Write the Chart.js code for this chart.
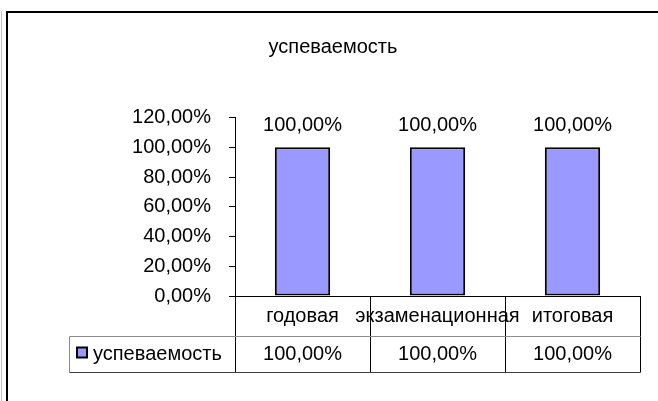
<!DOCTYPE html>
<html>
<head>
<meta charset="utf-8">
<script src="https://cdn.jsdelivr.net/npm/chart.js@4/dist/chart.umd.min.js"></script>
<style>
  html, body { margin: 0; padding: 0; background: #fff; }
  #wrap { position: relative; width: 658px; height: 401px; overflow: hidden; }
  #edge { position: absolute; left: 1px; top: 11px; width: 1px; height: 400px; background: #c4c4c4; }
  #frame { position: absolute; left: 6px; top: 11px; width: 700px; height: 500px;
           border-left: 2px solid #000; border-top: 2px solid #000; }
  #chart { position: absolute; left: 0; top: 0; }
</style>
</head>
<body>
<div id="wrap">
  <div id="edge"></div>
  <div id="frame"></div>
  <canvas id="chart" width="658" height="401"></canvas>
</div>
<script>
// данные
const TITLE = "успеваемость";
const SERIES = "успеваемость";
const CATEGORIES = ["годовая", "экзаменационная", "итоговая"];
const VALUES = [1, 1, 1];
const Y_MIN = 0;
const Y_MAX = 1.2;
const Y_STEP = 0.2;

const FONT = "'Liberation Sans', Arial, sans-serif";
const BAR_COLOR = "#9999ff";

// 1 -> "100,00%"
function pct(v) {
  return (v * 100).toFixed(2).replace(".", ",") + "%";
}

// заголовок, подписи над столбцами, таблица данных под осью
const tablePlugin = {
  id: "tablePlugin",
  afterDraw(chart) {
    const ctx = chart.ctx;
    const x = chart.scales.x;
    const area = chart.chartArea;
    const meta = chart.getDatasetMeta(0);

    ctx.save();
    ctx.font = "20px " + FONT;
    ctx.fillStyle = "#000";
    ctx.textAlign = "center";
    ctx.textBaseline = "middle";

    // заголовок
    ctx.fillText(TITLE, 333, 47);

    // значения над столбцами
    meta.data.forEach((bar, i) => {
      ctx.fillText(pct(VALUES[i]), bar.x, bar.y - 22);
    });

    const n = CATEGORIES.length;
    const step = (x.right - x.left) / n;
    const rowTop = Math.round(x.bottom) + 0.5;
    const rowBottom = rowTop + 36;
    const legendLeft = 69.5;
    const px = v => Math.round(v) + 0.5;

    ctx.lineWidth = 1;

    // вертикальные линии таблицы
    ctx.strokeStyle = "#000";
    for (let i = 0; i <= n; i++) {
      const lx = px(x.left + i * step);
      ctx.beginPath();
      ctx.moveTo(lx, px(area.bottom));
      ctx.lineTo(lx, rowBottom);
      ctx.stroke();
    }

    // горизонтали
    ctx.strokeStyle = "#8c8c8c";
    ctx.beginPath();
    ctx.moveTo(legendLeft, rowTop);
    ctx.lineTo(px(x.right), rowTop);
    ctx.moveTo(legendLeft, rowTop);
    ctx.lineTo(legendLeft, rowBottom);
    ctx.stroke();

    ctx.strokeStyle = "#404040";
    ctx.beginPath();
    ctx.moveTo(legendLeft, rowBottom);
    ctx.lineTo(px(x.right), rowBottom);
    ctx.stroke();

    const midY = (rowTop + rowBottom) / 2;

    // легенда
    ctx.fillStyle = BAR_COLOR;
    ctx.fillRect(77, midY - 7, 10, 10);
    ctx.strokeStyle = "#000";
    ctx.lineWidth = 2;
    ctx.strokeRect(77, midY - 7, 10, 10);

    ctx.fillStyle = "#000";
    ctx.textAlign = "left";
    ctx.fillText(SERIES, 93, midY);

    // значения в ячейках
    ctx.textAlign = "center";
    VALUES.forEach((v, i) => {
      ctx.fillText(pct(v), x.left + (i + 0.5) * step, midY);
    });

    ctx.restore();
  }
};

new Chart(document.getElementById("chart"), {
  type: "bar",
  data: {
    labels: CATEGORIES,
    datasets: [{
      label: SERIES,
      data: VALUES,
      backgroundColor: BAR_COLOR,
      borderColor: "#000",
      borderWidth: 2,
      borderSkipped: false,
      categoryPercentage: 1,
      barPercentage: 0.41
    }]
  },
  options: {
    responsive: false,
    animation: false,
    devicePixelRatio: 1,
    layout: { padding: { left: 0, right: 18, top: 117.5, bottom: 65 } },
    plugins: {
      legend: { display: false },
      tooltip: { enabled: false },
      title: { display: false }
    },
    scales: {
      x: {
        afterFit(s) { s.height = 40; },
        grid: { display: true, drawOnChartArea: false, drawTicks: false },
        border: { display: true, color: "#000", width: 1 },
        ticks: {
          color: "#000",
          font: { family: FONT, size: 20 },
          autoSkip: false,
          maxRotation: 0,
          minRotation: 0,
          padding: 8
        }
      },
      y: {
        min: Y_MIN,
        max: Y_MAX,
        afterFit(s) { s.width = 235; },
        grid: { drawOnChartArea: false, drawTicks: true, tickLength: 6, color: "#000" },
        border: { display: true, color: "#000", width: 1 },
        ticks: {
          stepSize: Y_STEP,
          color: "#000",
          font: { family: FONT, size: 20 },
          padding: 18,
          callback: v => pct(v)
        }
      }
    }
  },
  plugins: [tablePlugin]
});
</script>
</body>
</html>
